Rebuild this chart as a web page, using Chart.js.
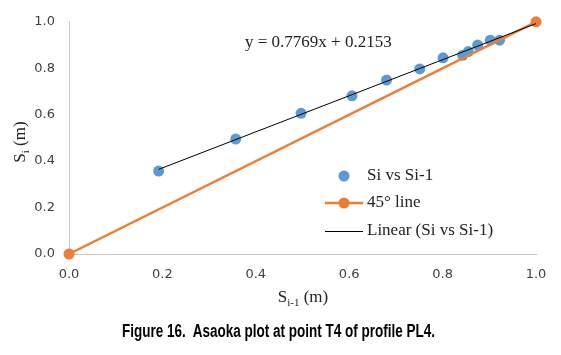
<!DOCTYPE html>
<html>
<head>
<meta charset="utf-8">
<script src="https://cdn.jsdelivr.net/npm/chart.js@4.4.1/dist/chart.umd.min.js"></script>
<style>
  html, body { margin: 0; padding: 0; background: #ffffff; }
  #wrap { position: relative; width: 561px; height: 355px; overflow: hidden; }
  #c { position: absolute; left: 0; top: 0; }
  #caption { position: absolute; left: 122px; top: 322px; white-space: nowrap;
    font-family: 'Liberation Sans Narrow', 'Liberation Sans', Arial, sans-serif;
    font-weight: bold; font-size: 18px; line-height: 18px; color: #000; transform-origin: 0 0; }
</style>
</head>
<body>
<div id="wrap">
  <canvas id="c" width="561" height="355"></canvas>
  <div id="caption">Figure 16.&nbsp; Asaoka plot at point T4 of profile PL4.</div>
</div>
<script>
// ---- data ----
const siPrev = [0.192, 0.357, 0.497, 0.606, 0.680, 0.751, 0.801, 0.843, 0.855, 0.875, 0.902, 0.922];
const si     = [0.357, 0.495, 0.606, 0.681, 0.749, 0.797, 0.845, 0.856, 0.872, 0.900, 0.921, 0.921];
const lineX  = [0.0, 1.0];
const lineY  = [0.0, 1.0];
const trendSlope = 0.7769;
const trendIntercept = 0.2153;
const trendX = [0.192, 1.0];
const tickValues = [0.0, 0.2, 0.4, 0.6, 0.8, 1.0];
const seriesNames = ['Si vs Si-1', '45° line', 'Linear (Si vs Si-1)'];
const equationText = 'y = 0.7769x + 0.2153';

const BLUE = '#5B9BD5', ORANGE = '#ED7D31', BLACK = '#000000';
const serif = "'Liberation Serif', 'Times New Roman', serif";

const scatterData = siPrev.map((x, i) => ({ x: x, y: si[i] }));
const lineData = lineX.map((x, i) => ({ x: x, y: lineY[i] }));
const trendData = trendX.map(x => ({ x: x, y: trendSlope * x + trendIntercept }));

const decor = {
  id: 'decor',
  afterDraw(chart) {
    const ctx = chart.ctx;
    const ds = chart.data.datasets;
    ctx.save();
    // equation
    ctx.fillStyle = '#222';
    ctx.font = '17px ' + serif;
    ctx.textBaseline = 'alphabetic';
    ctx.textAlign = 'left';
    ctx.fillText(equationText, 245, 47);

    // legend
    const lx0 = 325, lx1 = 363, tx = 367;
    const rows = [176, 203, 231];
    ctx.fillStyle = ds[0].backgroundColor;
    ctx.beginPath(); ctx.arc((lx0 + lx1) / 2, rows[0], ds[0].pointRadius, 0, Math.PI * 2); ctx.fill();
    ctx.strokeStyle = ds[1].borderColor; ctx.lineWidth = ds[1].borderWidth;
    ctx.beginPath(); ctx.moveTo(lx0, rows[1]); ctx.lineTo(lx1, rows[1]); ctx.stroke();
    ctx.fillStyle = ds[1].pointBackgroundColor;
    ctx.beginPath(); ctx.arc((lx0 + lx1) / 2, rows[1], ds[1].pointRadius, 0, Math.PI * 2); ctx.fill();
    ctx.strokeStyle = ds[2].borderColor; ctx.lineWidth = ds[2].borderWidth;
    ctx.beginPath(); ctx.moveTo(lx0, rows[2] + 0.5); ctx.lineTo(lx1, rows[2] + 0.5); ctx.stroke();
    ctx.fillStyle = '#222';
    ctx.font = '17px ' + serif;
    ctx.textBaseline = 'middle';
    seriesNames.forEach((n, i) => ctx.fillText(n, tx, rows[i]));

    // x axis title: S_{i-1} (m)
    ctx.textBaseline = 'alphabetic';
    const big = '17px ' + serif, small = '11px ' + serif;
    ctx.font = big; const wS = ctx.measureText('S').width; const wM = ctx.measureText(' (m)').width;
    ctx.font = small; const wSub = ctx.measureText('i-1').width;
    const total = wS + wSub + wM;
    let x = 303 - total / 2; const yb = 302;
    ctx.font = big; ctx.fillText('S', x, yb); x += wS;
    ctx.font = small; ctx.fillText('i-1', x, yb + 4); x += wSub;
    ctx.font = big; ctx.fillText(' (m)', x, yb);

    // y axis title: S_i (m), rotated
    ctx.translate(25, 142);
    ctx.rotate(-Math.PI / 2);
    ctx.font = big; const ws2 = ctx.measureText('S').width;
    ctx.font = small; const wsub2 = ctx.measureText('i').width;
    const tot2 = ws2 + wsub2 + wM;
    let p = -tot2 / 2;
    ctx.font = big; ctx.fillText('S', p, 0); p += ws2;
    ctx.font = small; ctx.fillText('i', p, 4); p += wsub2;
    ctx.font = big; ctx.fillText(' (m)', p, 0);
    ctx.restore();
  }
};

new Chart(document.getElementById('c'), {
  type: 'scatter',
  data: {
    datasets: [
      { label: seriesNames[0], data: scatterData, backgroundColor: BLUE, borderColor: BLUE,
        pointRadius: 5.5, pointBorderWidth: 0, showLine: false, order: 2, clip: false },
      { label: seriesNames[1], data: lineData, showLine: true, borderColor: ORANGE, borderWidth: 2.5,
        backgroundColor: ORANGE, pointBackgroundColor: ORANGE, pointBorderWidth: 0, pointRadius: 5.5, order: 1, clip: false },
      { label: seriesNames[2], data: trendData, showLine: true, borderColor: BLACK, borderWidth: 1,
        pointRadius: 0, order: 0, clip: false }
    ]
  },
  options: {
    responsive: false,
    animation: false,
    devicePixelRatio: 1,
    layout: { padding: { left: 0, top: 18, right: 25, bottom: 0 } },
    plugins: { legend: { display: false }, tooltip: { enabled: false } },
    scales: {
      x: {
        type: 'linear', min: 0, max: 1,
        afterBuildTicks(s) { s.ticks = tickValues.map(v => ({ value: v })); },
        afterFit(s) { s.height = 101; },
        grid: { display: false, drawTicks: false },
        border: { display: true, color: '#C8C8C8', width: 1 },
        ticks: { padding: 13, color: '#404040', font: { family: "'DejaVu Sans', Verdana, sans-serif", size: 13 },
          callback: v => Number(v).toFixed(1), maxRotation: 0 }
      },
      y: {
        type: 'linear', min: 0, max: 1,
        afterBuildTicks(s) { s.ticks = tickValues.map(v => ({ value: v })); },
        afterFit(s) { s.width = 69; },
        grid: { display: false, drawTicks: false },
        border: { display: true, color: '#C8C8C8', width: 1 },
        ticks: { padding: 14, color: '#404040', font: { family: "'DejaVu Sans', Verdana, sans-serif", size: 13 },
          callback: v => Number(v).toFixed(1) }
      }
    }
  },
  plugins: [decor]
});

const cap = document.getElementById('caption');
const w = cap.getBoundingClientRect().width;
cap.style.transform = 'scaleX(' + (313 / w) + ')';
</script>
</body>
</html>
